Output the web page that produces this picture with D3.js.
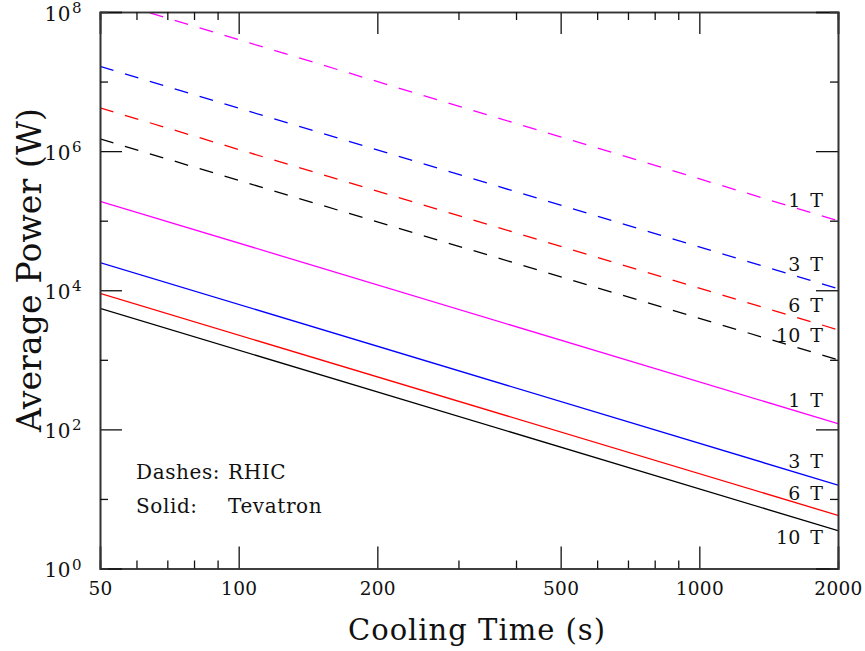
<!DOCTYPE html>
<html>
<head>
<meta charset="utf-8">
<script src="https://cdn.jsdelivr.net/npm/d3@7"></script>
<style>
  body { margin: 0; background: #fff; }
  svg { display: block; }
  text { font-family: "DejaVu Serif", "Liberation Serif", serif; fill: #111; }
</style>
</head>
<body>
<svg id="chart" width="865" height="651"></svg>
<script>
// ---- data ----
const times = [50, 2000];                       // cooling time (s), line endpoints
const fields = ["1 T", "3 T", "6 T", "10 T"];
const colors = ["#ff00ff", "#0000ff", "#ff0000", "#000000"];
const rhicPower = [                              // dashed, W at 50 s and 2000 s
  [1.6e8, 1.0e5],
  [1.65e7, 1.05e4],
  [4.2e6, 2.7e3],
  [1.5e6, 1.0e3]
];
const tevatronPower = [                          // solid, W at 50 s and 2000 s
  [1.9e5, 121],
  [2.5e4, 15.8],
  [9.0e3, 5.8],
  [5.5e3, 3.5]
];
const xTickLabels = [50, 100, 200, 500, 1000, 2000];
const xMinorTicks = [60, 70, 80, 90, 300, 400, 600, 700, 800, 900];
const yMajorExps = [0, 2, 4, 6, 8];
const yMinorExps = [1, 3, 5, 7];
const legendItems = [["Dashes:", "RHIC"], ["Solid:", "Tevatron"]];

// ---- layout ----
const svg = d3.select("#chart");
const L = 100, R = 838, T = 12, B = 568.5;
const rhicLabelY = [207, 271, 312, 342];
const tevLabelY = [407, 468, 500, 544];
const x = d3.scaleLog().domain([50, 2000]).range([L, R]);
const y = d3.scaleLog().domain([1, 1e8]).range([B, T]);

const axisColor = "#333";

svg.append("defs").append("clipPath").attr("id", "clip")
  .append("rect").attr("x", L).attr("y", T).attr("width", R - L).attr("height", B - T);

const plot = svg.append("g").attr("clip-path", "url(#clip)");
const line = d3.line().x(d => x(d[0])).y(d => y(d[1]));

rhicPower.forEach((p, i) => {
  plot.append("path")
    .attr("d", line(times.map((t, j) => [t, p[j]])))
    .attr("fill", "none").attr("stroke", colors[i]).attr("stroke-width", 1.3)
    .attr("stroke-dasharray", "14,12");
});
tevatronPower.forEach((p, i) => {
  plot.append("path")
    .attr("d", line(times.map((t, j) => [t, p[j]])))
    .attr("fill", "none").attr("stroke", colors[i]).attr("stroke-width", 1.3);
});

// ---- axes (ticks inward, mirrored) ----
const majLen = 22, minLen = 8;
const axB = d3.axisBottom(x).tickValues(xTickLabels).tickSize(-majLen).tickFormat(d3.format("d")).tickPadding(13);
const axBm = d3.axisBottom(x).tickValues(xMinorTicks).tickSize(-minLen).tickFormat("");
const axT = d3.axisTop(x).tickValues(xTickLabels).tickSize(-majLen).tickFormat("");
const axTm = d3.axisTop(x).tickValues(xMinorTicks).tickSize(-minLen).tickFormat("");

const yMaj = yMajorExps.map(e => Math.pow(10, e));
const yMin = yMinorExps.map(e => Math.pow(10, e));
const axL = d3.axisLeft(y).tickValues(yMaj).tickSize(-majLen).tickFormat("");
const axLm = d3.axisLeft(y).tickValues(yMin).tickSize(-minLen).tickFormat("");
const axR = d3.axisRight(y).tickValues(yMaj).tickSize(-majLen).tickFormat("");
const axRm = d3.axisRight(y).tickValues(yMin).tickSize(-minLen).tickFormat("");

function styleAxis(g) {
  g.select(".domain").attr("stroke", axisColor).attr("stroke-width", 1.6);
  g.selectAll(".tick line").attr("stroke", "#111").attr("stroke-width", 1.3);
  g.selectAll(".tick text").attr("font-family", "DejaVu Serif, serif").attr("font-size", 18.5)
    .attr("letter-spacing", 0.3).attr("fill", "#111");
}

svg.append("g").attr("transform", `translate(0,${B})`).call(axB).call(styleAxis);
svg.append("g").attr("transform", `translate(0,${B})`).call(axBm).call(styleAxis);
svg.append("g").attr("transform", `translate(0,${T})`).call(axT).call(styleAxis);
svg.append("g").attr("transform", `translate(0,${T})`).call(axTm).call(styleAxis);
svg.append("g").attr("transform", `translate(${L},0)`).call(axL).call(styleAxis);
svg.append("g").attr("transform", `translate(${L},0)`).call(axLm).call(styleAxis);
svg.append("g").attr("transform", `translate(${R},0)`).call(axR).call(styleAxis);
svg.append("g").attr("transform", `translate(${R},0)`).call(axRm).call(styleAxis);

// y tick labels 10^n
yMajorExps.forEach(e => {
  const yy = y(Math.pow(10, e));
  svg.append("text").attr("x", 71).attr("y", yy + 8.5)
    .attr("text-anchor", "end").attr("font-size", 20).attr("letter-spacing", 0.5).text("10");
  svg.append("text").attr("x", 72).attr("y", yy + 1)
    .attr("font-size", 15).text(e);
});

// axis titles
svg.append("text").attr("x", 476.5).attr("y", 640).attr("text-anchor", "middle")
  .attr("font-size", 29).attr("textLength", 257).attr("lengthAdjust", "spacing")
  .text("Cooling Time (s)");
svg.append("text").attr("transform", "translate(41,270) rotate(-90)")
  .attr("text-anchor", "middle").attr("font-size", 33)
  .attr("textLength", 324).attr("lengthAdjust", "spacing")
  .text("Average Power (W)");

// line labels
fields.forEach((f, i) => {
  svg.append("text").attr("x", 823).attr("y", rhicLabelY[i]).attr("text-anchor", "end")
    .attr("font-size", 19).attr("word-spacing", 4).text(f);
  svg.append("text").attr("x", 823).attr("y", tevLabelY[i]).attr("text-anchor", "end")
    .attr("font-size", 19).attr("word-spacing", 4).text(f);
});

// legend
legendItems.forEach((d, i) => {
  svg.append("text").attr("x", 136).attr("y", 479 + i * 34).attr("font-size", 20)
    .attr("letter-spacing", 0.6).text(d[0]);
  svg.append("text").attr("x", 228).attr("y", 479 + i * 34).attr("font-size", 20)
    .attr("letter-spacing", 0.6).text(d[1]);
});
</script>
</body>
</html>
